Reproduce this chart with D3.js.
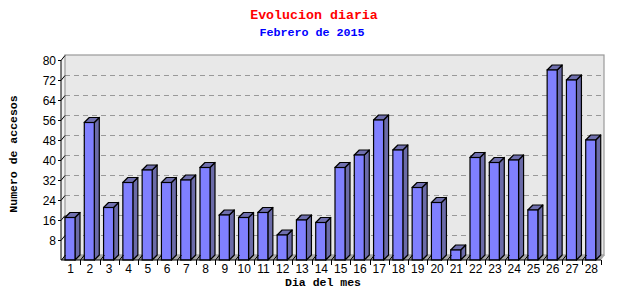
<!DOCTYPE html>
<html><head><meta charset="utf-8">
<script src="https://cdn.jsdelivr.net/npm/d3@7"></script>
<style>body{margin:0;background:#fff}svg{display:block}</style>
</head><body>
<svg id="c" width="640" height="300"></svg>
<script>
const days = d3.range(1, 29).map(String);
const accesos = [17,55,21,31,36,31,32,37,18,17,19,10,16,15,37,42,56,44,29,23,4,41,39,40,20,76,72,48];
const yTicks = [8,16,24,32,40,48,56,64,72,80];
const title = "Evolucion diaria";
const subtitle = "Febrero de 2015";
const xTitle = "Dia del mes";
const yTitle = "Numero de accesos";

const svg = d3.select("#c");
const x0 = 61, x1 = 601, yTop = 60, yBot = 260;
const wdx = 4, wdy = 5, bdx = 5, bdy = 5;
const x = d3.scaleBand().domain(days).range([x0, x1]).padding(0);
const y = d3.scaleLinear().domain([0, 80]).range([yBot, yTop]);

// titles
svg.append("text").attr("x", 314).attr("y", 19).attr("text-anchor", "middle")
  .attr("font-family", "Liberation Mono, monospace").attr("font-weight", "bold")
  .attr("font-size", "13.3px").attr("fill", "#ff0000").text(title);
svg.append("text").attr("x", 312).attr("y", 36).attr("text-anchor", "middle")
  .attr("font-family", "Liberation Mono, monospace").attr("font-weight", "bold")
  .attr("font-size", "11.7px").attr("fill", "#0000ff").text(subtitle);

// left side wall
svg.append("polygon")
  .attr("points", [[x0, yTop], [x0 + wdx, yTop - wdy], [x0 + wdx, yBot - wdy], [x0, yBot]].join(" "))
  .attr("fill", "#f2f2f2");
// back wall
svg.append("rect").attr("x", x0 + wdx).attr("y", yTop - wdy)
  .attr("width", (x1 + 3) - (x0 + wdx)).attr("height", yBot - yTop)
  .attr("fill", "#e8e8e8").attr("stroke", "#999").attr("stroke-width", 1.2);
// floor
svg.append("polygon")
  .attr("points", [[x0, yBot], [x1, yBot], [x1 + wdx, yBot - wdy], [x0 + wdx, yBot - wdy]].join(" "))
  .attr("fill", "#a8a8a8");

// gridlines
svg.append("g").selectAll("line").data(yTicks.filter(t => t < 80)).join("line")
  .attr("x1", x0 + wdx).attr("x2", x1 + 3)
  .attr("y1", d => Math.round(y(d) - wdy) + 0.5).attr("y2", d => Math.round(y(d) - wdy) + 0.5)
  .attr("stroke", "#999").attr("stroke-width", 1.2).attr("stroke-dasharray", "5,4");

// bars
const bw = 10;
const g = svg.append("g");
days.forEach((d, i) => {
  const v = accesos[i];
  const bx = x(d) + 4, by = y(v), bb = y(0);
  g.append("polygon")
    .attr("points", [[bx + bw, by], [bx + bw + bdx, by - bdy], [bx + bw + bdx, bb - bdy], [bx + bw, bb]].join(" "))
    .attr("fill", "#6b6ba8").attr("stroke", "#000").attr("stroke-width", 1.2).attr("stroke-linejoin", "round");
  g.append("polygon")
    .attr("points", [[bx, by], [bx + bdx, by - bdy], [bx + bw + bdx, by - bdy], [bx + bw, by]].join(" "))
    .attr("fill", "#6f6fae").attr("stroke", "#000").attr("stroke-width", 1.2).attr("stroke-linejoin", "round");
  g.append("rect").attr("x", bx).attr("y", by).attr("width", bw).attr("height", bb - by)
    .attr("fill", "#8080ff").attr("stroke", "#000").attr("stroke-width", 1.2);
});

// axes lines
svg.append("line").attr("x1", x0).attr("x2", x0).attr("y1", yTop).attr("y2", yBot).attr("stroke", "#000");
svg.append("line").attr("x1", x0).attr("x2", x1).attr("y1", yBot).attr("y2", yBot).attr("stroke", "#000");

// y ticks
const yt = svg.append("g");
yTicks.forEach(t => {
  const yy = Math.round(y(t)) + 0.5;
  yt.append("line").attr("x1", x0 - 3).attr("x2", x0).attr("y1", yy).attr("y2", yy).attr("stroke", "#000");
  yt.append("line").attr("x1", x0).attr("x2", x0 + wdx).attr("y1", yy).attr("y2", yy - wdy).attr("stroke", "#000");
  yt.append("text").attr("x", x0 - 5).attr("y", yy + 4.5).attr("text-anchor", "end")
    .attr("font-family", "Liberation Sans, Arial, sans-serif").attr("font-size", "12px").attr("fill", "#000").text(t);
});

// x ticks
const xt = svg.append("g");
days.forEach(d => {
  const xx = Math.round(x(d) + x.bandwidth()) + 0.5;
  xt.append("line").attr("x1", xx).attr("x2", xx).attr("y1", yBot).attr("y2", yBot + 5).attr("stroke", "#000");
  xt.append("line").attr("x1", Math.round(x(d)) + 0.5).attr("x2", Math.round(x(d)) + 0.5 + wdx)
    .attr("y1", yBot).attr("y2", yBot - wdy).attr("stroke", "#000");
  xt.append("text").attr("x", x(d) + x.bandwidth() / 2).attr("y", yBot + 13)
    .attr("text-anchor", "middle").attr("font-family", "Liberation Sans, Arial, sans-serif")
    .attr("font-size", "12px").attr("fill", "#000").text(d);
});

// axis titles
svg.append("text").attr("x", 323).attr("y", 286).attr("text-anchor", "middle")
  .attr("font-family", "Liberation Mono, monospace").attr("font-weight", "bold")
  .attr("font-size", "11.5px").attr("fill", "#000").text(xTitle);
svg.append("text").attr("transform", "translate(17,154) rotate(-90)").attr("text-anchor", "middle")
  .attr("font-family", "Liberation Mono, monospace").attr("font-weight", "bold")
  .attr("font-size", "11.5px").attr("fill", "#000").text(yTitle);
</script>
</body></html>
